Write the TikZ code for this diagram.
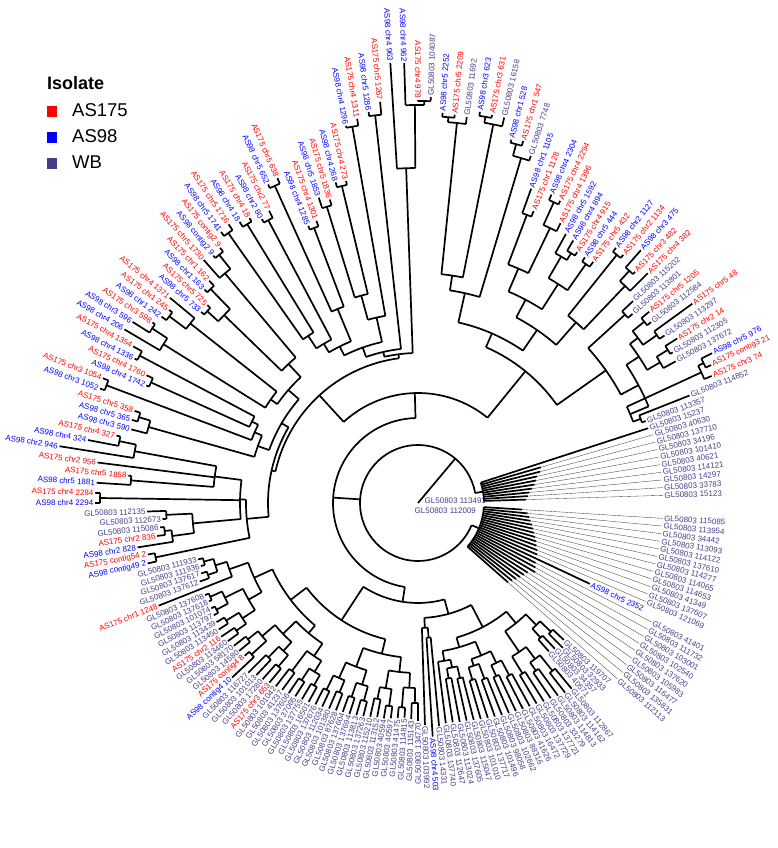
\documentclass[tikz,border=0pt]{standalone}
\usepackage{fontspec}
\setmainfont{Liberation Sans}
\definecolor{wb}{RGB}{72,61,139}
\definecolor{as175}{RGB}{255,0,0}
\definecolor{as98}{RGB}{0,0,255}
\tikzset{
  branch/.style={line width=1.7pt},
  fanline/.style={line width=0.35pt, black!75},
  leaflabel/.style={font=\fontsize{8}{9}\selectfont, inner sep=1.5pt},
  legtext/.style={font=\fontsize{18.5}{20}\selectfont, anchor=base west, inner sep=0pt},
}

\begin{document}
\begin{tikzpicture}[x=1pt,y=1pt]
\useasboundingbox (-418,-345) rectangle (360,503);

% legend
\node[font=\bfseries\fontsize{18}{20}\selectfont, anchor=base west, inner sep=0pt] (legtitle) at (-371,413) {Isolate};
\foreach \c/\y/\txt in {as175/386/AS175, as98/360/AS98, wb/334/WB}{
  \fill[\c] (-371,\y) rectangle ++(10,11);
  \node[legtext] (leg\txt) at (-346,\y) {\txt};
}

% root
\draw[branch] (0,0) -- (50:58pt);
\node[leaflabel, text=wb, anchor=west] (root1) at (5,2) {GL50803 113491};
\node[leaflabel, text=wb, anchor=west] (root2) at (-5,-8) {GL50803 112009};

% internal nodes: first child / last child / radius / parent radius (positions in leaf slots)
\foreach \a/\b/\r/\p in {
  101.5/-80.5/58/58, 97/106/66/58, 109/130/66/58,
  56.08/-38.06/85/58, 33.39/78.76/110/85, 148.47/175.41/100/85,
  % left
  0/1/268/172, 3/4/255/248, 2/3.5/248/226, 5/6/252/226, 2.75/5.5/226/178,
  7/8/318/178, 9/10/288/205, 13/14/305/288, 12/13.5/288/205, 9.5/12.75/205/178,
  4.125/11.125/178/172, 0.5/7.625/172/150,
  16/17/292/280, 15/16.5/280/170, 18/19/333/178, 20/21/293/185, 22/23/315/185,
  20.5/22.5/185/178, 18.5/21.5/178/170, 15.75/20/170/158,
  25/26/318/300, 24/25.5/300/180, 27/28/311/290, 27.5/29/290/180, 24.75/28.25/180/172,
  30/31/285/270, 32/33/298/270, 30.5/32.5/270/190, 35/36/318/300, 34/35.5/300/190,
  31.5/34.75/190/172, 26.5/33.125/172/158, 17.875/29.81/158/150, 4.06/23.84/150/146,
  37/38/330/200, 39/40/327/200, 37.5/39.5/200/185, 41/42/320/185, 38.5/41.5/185/175,
  43/44/348/210, 45/46/294/210, 43.5/45.5/210/175, 40/44.5/175/165,
  47/48/310/215, 49/50/326/215, 47.5/49.5/215/190, 51/52/382/190, 48.5/51.5/190/165,
  42.25/50/165/155, 53/54/390/155, 46.125/53.5/155/150,
  57/58/402/398, 56/57.5/398/335, 55/56.75/335/150, 49.81/55.875/150/146,
  13.95/52.84/146/110,
  % top right
  59/60/387/382, 59.5/61/382/230, 62/63/392/386, 62.5/64/386/230, 60.25/63.25/230/215,
  65/66/372/360, 65.5/67/360/215, 61.75/66.25/215/185,
  68/69/308/255, 70/71/330/305, 70.5/72/305/255, 68.5/71.25/255/230,
  74/75/293/285, 73/74.5/285/260, 76/77/292/260, 73.75/76.5/260/230, 69.875/75.125/230/210,
  78/79/318/240, 80/81/314/300, 80.5/82/300/240, 78.5/81.25/240/210, 72.5/79.875/210/185,
  64/76.19/185/170,
  83/84/280/230, 85/86/290/275, 87/88/292/275, 85.5/87.5/275/265,
  89/90/293/280, 89.5/91/280/265, 86.5/90.25/265/250,
  92/93/318/312, 92.5/94/312/230, 95/96/238/230, 93.25/95.5/230/250, 88.375/94.375/250/230,
  83.5/91.375/230/170, 70.09/87.44/170/110,
  % bottom right
  131/132/185/170, 133/134/182/170, 131.5/133.5/170/155,
  135/136/215/195, 137/138/205/195, 135.5/137.5/195/180, 139/140/200/180, 136.5/139.5/180/155,
  132.5/138/155/140,
  141/142/195/178, 143/144/190/178, 141.5/143.5/178/165,
  145/146/188/172, 147/148/185/172, 145.5/147.5/172/165, 142.5/146.5/165/150,
  149/150/180/168, 151/152/178/168, 149.5/151.5/168/160, 150.5/153/160/150,
  144.5/151.75/150/140, 135.25/148.125/140/115,
  154/155/135/125, 154.5/156/125/115, 141.69/155.25/115/100,
  % bottom left
  157/158/200/185, 159/160/205/185, 157.5/159.5/185/170,
  161/162/205/188, 163/164/200/188, 161.5/163.5/188/170, 158.5/162.5/170/155,
  165/166/205/190, 167/168/205/190, 165.5/167.5/190/175,
  169/170/205/192, 171/172/208/192, 169.5/171.5/192/175, 166.5/170.5/175/155,
  160.5/168.5/155/140,
  173/174/210/198, 175/176/212/198, 173.5/175.5/198/185, 177/178/210/185, 174.5/177.5/185/170,
  179/180/215/200, 181/182/215/200, 179.5/181.5/200/188,
  183/184/225/205, 185/186/218/205, 183.5/185.5/205/188, 180.5/184.5/188/170,
  176/182.5/170/160,
  187/188/222/210, 189/190/225/210, 187.5/189.5/210/195,
  191/192/228/215, 193/194/228/215, 191.5/193.5/215/195, 188.5/192.5/195/180,
  196/197/222/212, 198/199/222/212, 196.5/198.5/212/200, 195/197.5/200/180,
  190.5/196.25/180/160, 179.25/193.375/160/140, 164.5/186.31/140/100}{
  \pgfmathsetmacro\ta{192.6-1.8*\a}
  \pgfmathsetmacro\tb{192.6-1.8*\b}
  \pgfmathsetmacro\tm{192.6-0.9*(\a+\b)}
  \draw[branch] (\ta:\r pt) arc[start angle=\ta, end angle=\tb, radius=\r pt];
  \draw[branch] (\tm:\p pt) -- (\tm:\r pt);
}

% leaves: slot / parent radius / tip radius / colour / label
\foreach \i/\p/\t/\c/\txt in {
  0/268/277/as98/AS98 contig49 2, 1/268/275/as175/AS175 contig54 2,
  2/248/284/as98/AS98 chr2 828, 3/255/263/as175/AS175 chr2 836,
  4/255/259/wb/GL50803 115086, 5/252/256/wb/GL50803 112673, 6/252/271/wb/GL50803 112135,
  7/318/323/as98/AS98 chr4 2294, 8/318/323/as175/AS175 chr4 2284,
  9/288/322/as98/AS98 chr5 1881, 10/288/291/as175/AS175 chr5 1858,
  11/205/323/as175/AS175 chr2 956, 12/288/363/as98/AS98 chr2 946,
  13/305/336/as98/AS98 chr4 324, 14/305/309/as175/AS175 chr4 327,
  15/280/296/as98/AS98 chr3 590, 16/292/298/as98/AS98 chr5 365, 17/292/298/as175/AS175 chr5 358,
  18/333/338/as98/AS98 chr3 1052, 19/333/339/as175/AS175 chr3 1054,
  20/293/296/as98/AS98 chr4 1742, 21/293/300/as175/AS175 chr4 1760,
  22/315/318/as98/AS98 chr4 1336, 23/315/325/as175/AS175 chr4 1354,
  24/300/341/as98/AS98 chr4 206, 25/318/338/as98/AS98 chr3 596, 26/318/321/as175/AS175 chr3 598,
  27/311/317/as98/AS98 chr1 242, 28/311/315/as175/AS175 chr1 245, 29/290/322/as175/AS175 chr4 1371,
  30/285/289/as98/AS98 chr5 733, 31/285/289/as175/AS175 chr5 725,
  32/298/302/as98/AS98 chr1 163, 33/298/305/as175/AS175 chr1 162,
  34/300/324/as175/AS175 chr5 1730, 35/318/321/as98/AS98 contig2 9, 36/318/323/as175/AS175 contig2 9,
  37/330/335/as98/AS98 chr5 1741, 38/330/337/as175/AS175 chr5 1716,
  39/327/333/as98/AS98 chr4 18, 40/327/331/as175/AS175 chr4 18,
  41/320/324/as98/AS98 chr2 80, 42/320/328/as175/AS175 chr2 77,
  43/348/352/as98/AS98 chr5 652, 44/348/354/as175/AS175 chr5 638,
  45/294/298/as98/AS98 chr4 1285, 46/294/300/as175/AS175 chr4 1301,
  47/310/321/as98/AS98 chr5 1853, 48/310/316/as175/AS175 chr5 1836,
  49/326/331/as98/AS98 chr4 268, 50/326/330/as175/AS175 chr4 273,
  51/382/384/as98/AS98 chr4 1296, 52/382/389/as175/AS175 chr4 1311,
  53/390/394/as98/AS98 chr5 1286, 54/390/403/as175/AS175 chr5 1267,
  55/335/441/as98/AS98 chr4 963, 56/398/440/as98/AS98 chr4 962,
  57/402/403/as175/AS175 chr4 978, 58/402/406/wb/GL50803 104087,
  59/387/391/as98/AS98 chr5 2252, 60/387/390/as175/AS175 chr5 2209, 61/382/389/wb/GL50803 11692,
  62/392/396/as98/AS98 chr3 623, 63/392/395/as175/AS175 chr3 631, 64/386/395/wb/GL50803 16158,
  65/372/375/as98/AS98 chr1 528, 66/372/377/as175/AS175 chr1 547, 67/360/365/wb/GL50803 7748,
  68/308/334/as98/AS98 chr1 1105, 69/308/314/as175/AS175 chr1 1128,
  70/330/336/as98/AS98 chr4 2304, 71/330/334/as175/AS175 chr4 2294, 72/305/314/as175/AS175 chr4 1396,
  73/285/307/as98/AS98 chr5 1592, 74/293/305/as98/AS98 chr4 894, 75/293/297/as175/AS175 chr4 915,
  76/292/297/as98/AS98 chr5 444, 77/292/298/as175/AS175 chr5 432,
  78/318/323/as98/AS98 chr2 1127, 79/318/322/as175/AS175 chr2 1134,
  80/314/337/as98/AS98 chr3 475, 81/314/317/as175/AS175 chr3 482, 82/300/325/as175/AS175 chr4 382,
  83/280/295/wb/GL50803 115202, 84/280/286/wb/GL50803 113801,
  85/290/300/as175/AS175 chr5 1205, 86/290/295/wb/GL50803 112584,
  87/292/339/as175/AS175 chr5 48, 88/292/298/wb/GL50803 113297,
  89/293/307/as175/AS175 chr2 14, 90/293/296/wb/GL50803 112305, 91/280/294/wb/GL50803 137672,
  92/318/330/as98/AS98 chr5 976, 93/318/324/as175/AS175 contig3 21, 94/312/320/as175/AS175 chr3 74,
  95/238/292/wb/GL50803 114852, 96/238/242/wb/GL50803 113357,
  97/66/242/wb/GL50803 15237, 121/66/190/as98/AS98 chr5 2352,
  131/185/200/wb/GL50803 119707, 132/185/205/wb/GL50803 32933,
  133/182/200/wb/GL50803 34357, 134/182/198/wb/GL50803 40571,
  135/215/241/wb/GL50803 112867, 136/215/240/wb/GL50803 114162,
  137/205/238/wb/GL50803 114813, 138/205/236/wb/GL50803 33279,
  139/200/235/wb/GL50803 137721, 140/200/233/wb/GL50803 137729,
  141/195/232/wb/GL50803 16472, 142/195/231/wb/GL50803 41626,
  143/190/230/wb/GL50803 88316, 144/190/229/wb/GL50803 102662,
  145/188/228/wb/GL50803 98058, 146/188/227/wb/GL50803 101496,
  147/185/226/wb/GL50803 137717, 148/185/225/wb/GL50803 101010,
  149/180/224/wb/GL50803 115047, 150/180/223/wb/GL50803 137605,
  151/178/223/wb/GL50803 113024, 152/178/222/wb/GL50803 112647,
  153/160/222/wb/GL50803 137740, 154/135/224/wb/GL50803 14331,
  155/135/234/as98/AS98 chr4 503, 156/125/222/wb/GL50803 103992,
  157/200/218/wb/GL50803 134770, 158/200/216/wb/GL50803 115143,
  159/205/215/wb/GL50803 114815, 160/205/216/wb/GL50803 41475,
  161/205/217/wb/GL50803 40597, 162/205/218/wb/GL50803 40594,
  163/200/218/wb/GL50803 113152, 164/200/219/wb/GL50803 115210,
  165/205/220/wb/GL50803 137263, 166/205/221/wb/GL50803 113813,
  167/205/222/wb/GL50803 137694, 168/205/222/wb/GL50803 137604,
  169/205/223/wb/GL50803 87628, 170/205/224/wb/GL50803 101380,
  171/208/225/wb/GL50803 112034, 172/208/226/wb/GL50803 137676,
  173/210/227/wb/GL50803 16501, 174/210/228/wb/GL50803 137755,
  175/212/229/wb/GL50803 37065, 176/212/230/wb/GL50803 137606,
  177/210/231/wb/GL50803 41237, 178/210/232/wb/GL50803 101042,
  179/215/233/as175/AS175 chr3 653, 180/215/235/wb/GL50803 17280,
  181/215/236/wb/GL50803 101013, 182/215/240/wb/GL50803 116727,
  183/225/255/as98/AS98 contig4 10, 184/225/231/as175/AS175 contig4 8,
  185/218/232/wb/GL50803 14580, 186/218/233/wb/GL50803 58170,
  187/222/235/wb/GL50803 113460, 188/222/238/as175/AS175 chr2 116,
  189/225/236/wb/GL50803 113450, 190/225/234/wb/GL50803 113439,
  191/228/233/wb/GL50803 113797, 192/228/232/wb/GL50803 101074,
  193/228/231/wb/GL50803 137618, 194/228/232/wb/GL50803 137608,
  195/200/279/as175/AS175 chr1 1248, 196/222/232/wb/GL50803 137612,
  197/222/228/wb/GL50803 137617, 198/222/226/wb/GL50803 111936,
  199/222/227/wb/GL50803 111933}{
  \pgfmathsetmacro\th{192.6-1.8*\i}
  \pgfmathtruncatemacro\rgt{cos(\th)>0}
  \ifnum\rgt=1 \def\anc{west}\pgfmathsetmacro\rot{\th}\else \def\anc{east}\pgfmathsetmacro\rot{\th+180}\fi
  \draw[branch] (\th:\p pt) -- (\th:\t pt);
  \node[leaflabel, text=\c, rotate=\rot, anchor=\anc] (leaf\i) at (\th:\t pt) {\txt};
}

% fan: slot / thick end / tip radius / label
\foreach \i/\k/\t/\txt in {
  98/128/245/GL50803 40630, 99/126/245/GL50803 137710, 100/122/245/GL50803 34196,
  101/120/245/GL50803 101410, 102/118/245/GL50803 40621, 103/115/245/GL50803 114121,
  104/112/245/GL50803 14297, 105/110/245/GL50803 33783, 106/108/245/GL50803 15123,
  109/104/245/GL50803 115085, 110/110/245/GL50803 113954, 111/112/245/GL50803 34442,
  112/114/245/GL50803 113093, 113/116/245/GL50803 114122, 114/118/245/GL50803 137610,
  115/120/245/GL50803 114277, 116/122/245/GL50803 114065, 117/124/245/GL50803 114653,
  118/126/247/GL50803 41349, 119/128/247/GL50803 137607, 120/130/248/GL50803 121069,
  122/132/262/GL50803 41401, 123/134/262/GL50803 111732, 124/136/262/GL50803 103001,
  125/130/262/GL50803 102540, 126/128/262/GL50803 137620, 127/126/264/GL50803 105983,
  128/124/264/GL50803 116477, 129/122/266/GL50803 135831, 130/120/266/GL50803 112113}{
  \pgfmathsetmacro\th{192.6-1.8*\i}
  \draw[branch] (\th:66pt) -- (\th:\k pt);
  \draw[fanline] (\th:\k pt) -- (\th:\t pt);
  \node[leaflabel, text=wb, rotate=\th, anchor=west] (leaf\i) at (\th:\t pt) {\txt};
}
\end{tikzpicture}
\end{document}
